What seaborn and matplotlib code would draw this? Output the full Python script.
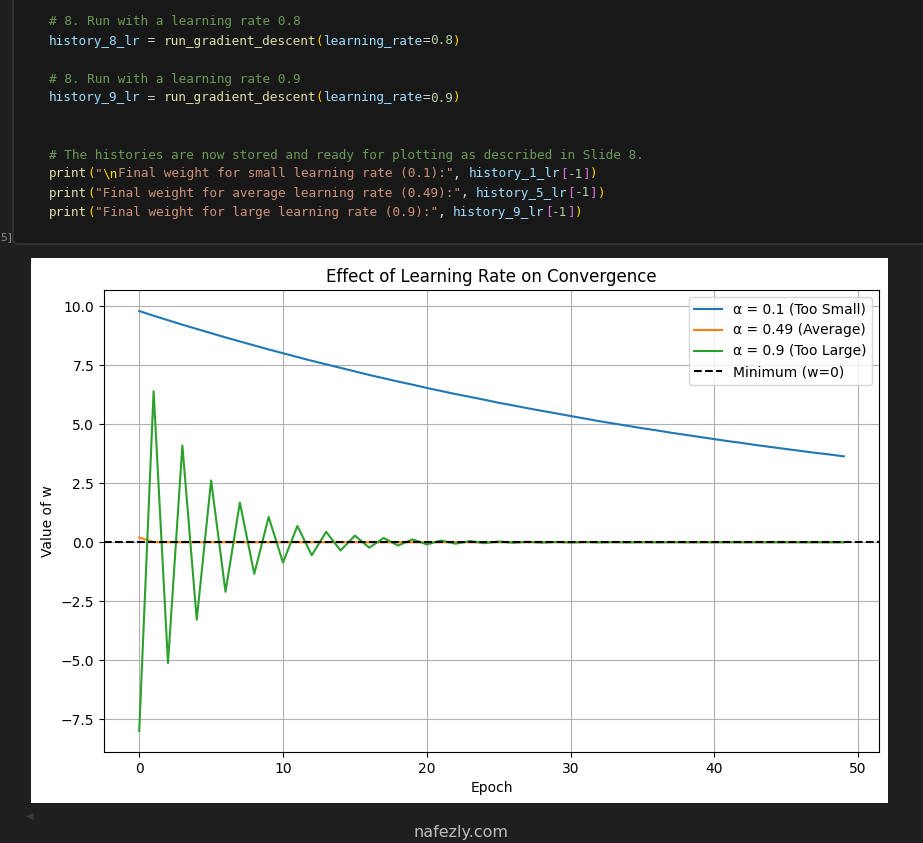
import matplotlib
matplotlib.use("Agg")
import matplotlib.pyplot as plt
from matplotlib.patches import Rectangle, FancyBboxPatch
import seaborn as sns
import numpy as np

# values of w per epoch
epochs = list(range(50))
w_small = [9.80, 9.60, 9.41, 9.22, 9.04, 8.86, 8.68, 8.51, 8.34, 8.17,
           8.01, 7.85, 7.69, 7.54, 7.39, 7.24, 7.09, 6.95, 6.81, 6.68,
           6.54, 6.41, 6.28, 6.16, 6.04, 5.91, 5.80, 5.68, 5.57, 5.46,
           5.35, 5.24, 5.13, 5.03, 4.93, 4.83, 4.74, 4.64, 4.55, 4.46,
           4.37, 4.28, 4.20, 4.11, 4.03, 3.95, 3.87, 3.79, 3.72, 3.64]
w_avg = [0.2, 0.004, 0.0001] + [0.0] * 47
w_large = [-8.0, 6.4, -5.12, 4.10, -3.28, 2.62, -2.10, 1.68, -1.34, 1.07,
           -0.86, 0.69, -0.55, 0.44, -0.35, 0.28, -0.23, 0.18, -0.14, 0.12,
           -0.09, 0.07, -0.06, 0.05, -0.04, 0.03, -0.02, 0.02, -0.015, 0.012,
           -0.01, 0.008, -0.006, 0.005, -0.004, 0.003, -0.003, 0.002, -0.002, 0.001,
           -0.001, 0.001, -0.001, 0.001, 0.0, 0.0, 0.0, 0.0, 0.0, 0.0]
labels = ["α = 0.1 (Too Small)", "α = 0.49 (Average)", "α = 0.9 (Too Large)"]
min_label = "Minimum (w=0)"

W, H = 923, 843
fig = plt.figure(figsize=(W / 100, H / 100), dpi=100, facecolor="#1f1f1f")

def fx(px):
    return px / W

def fy(py):
    return 1 - py / H

# code cell background
cell = FancyBboxPatch((fx(13), fy(244)), fx(923 - 13 + 20), fy(-10) - fy(244),
                      boxstyle="round,pad=0,rounding_size=0.006",
                      transform=fig.transFigure, facecolor="#181818",
                      edgecolor="#3a3a3a", linewidth=1.0, zorder=-5)
fig.patches.append(cell)
fig.text(fx(0), fy(237), "5]", color="#8a8a8a", fontsize=8,
         family="DejaVu Sans Mono", va="center")

COM = "#6a9955"
VAR = "#9cdcfe"
FUN = "#dcdcaa"
PAR = "#ffd700"
STR = "#ce9178"
NUM = "#b5cea8"
TXT = "#d4d4d4"
BRK = "#da70d6"

code_lines = [
    (22, [("# 8. Run with a learning rate 0.8", COM)]),
    (41, [("history_8_lr", VAR), (" = ", TXT), ("run_gradient_descent", FUN),
          ("(", PAR), ("learning_rate", VAR), ("=", TXT), ("0.8", NUM), (")", PAR)]),
    (79, [("# 8. Run with a learning rate 0.9", COM)]),
    (98, [("history_9_lr", VAR), (" = ", TXT), ("run_gradient_descent", FUN),
          ("(", PAR), ("learning_rate", VAR), ("=", TXT), ("0.9", NUM), (")", PAR)]),
    (155, [("# The histories are now stored and ready for plotting as described in Slide 8.", COM)]),
    (174, [("print", FUN), ("(", PAR), ('"', STR), ("\\n", PAR),
           ('Final weight for small learning rate (0.1):"', STR), (", ", TXT),
           ("history_1_lr", VAR), ("[", BRK), ("-1", NUM), ("]", BRK), (")", PAR)]),
    (193, [("print", FUN), ("(", PAR),
           ('"Final weight for average learning rate (0.49):"', STR), (", ", TXT),
           ("history_5_lr", VAR), ("[", BRK), ("-1", NUM), ("]", BRK), (")", PAR)]),
    (212, [("print", FUN), ("(", PAR),
           ('"Final weight for large learning rate (0.9):"', STR), (", ", TXT),
           ("history_9_lr", VAR), ("[", BRK), ("-1", NUM), ("]", BRK), (")", PAR)]),
]
code_fs = 9.15
# measure the real advance of one monospace character
renderer = fig.canvas.get_renderer()
probe = fig.text(0, 0, "x" * 100, fontsize=code_fs, family="DejaVu Sans Mono")
probe2 = fig.text(0, 0, "x" * 50, fontsize=code_fs, family="DejaVu Sans Mono")
char_w = (probe.get_window_extent(renderer).width
          - probe2.get_window_extent(renderer).width) / 50
probe.remove()
probe2.remove()
for y, parts in code_lines:
    col = 0
    for s, c in parts:
        fig.text(fx(49 + col * char_w), fy(y), s, color=c, fontsize=code_fs,
                 family="DejaVu Sans Mono", va="center", ha="left")
        col += len(s)

# white output image
fig.patches.append(Rectangle((fx(31), fy(803)), fx(888 - 31), fy(258) - fy(803),
                             transform=fig.transFigure, facecolor="white",
                             edgecolor="none", zorder=-5))

ax = fig.add_axes([fx(104), fy(752), fx(879 - 104), fy(290) - fy(752)])
ax.set_zorder(5)
ax.set_facecolor("white")
sns.lineplot(x=epochs, y=w_small, ax=ax, label=labels[0], color="#1f77b4", linewidth=1.5)
sns.lineplot(x=epochs, y=w_avg, ax=ax, label=labels[1], color="#ff7f0e", linewidth=1.5)
sns.lineplot(x=epochs, y=w_large, ax=ax, label=labels[2], color="#2ca02c", linewidth=1.5)
ax.axhline(0, color="black", linestyle="--", linewidth=1.5, label=min_label)
ax.set_title("Effect of Learning Rate on Convergence", fontsize=12)
ax.set_xlabel("Epoch", fontsize=10)
ax.set_ylabel("Value of w", fontsize=10)
ax.grid(True, color="#b0b0b0", linewidth=0.8)
ax.set_axisbelow(True)
ax.legend(loc="upper right", fontsize=10)

# bottom strip and watermark
fig.text(fx(30), fy(816), "◀", color="#3a3a3a", fontsize=7, ha="center", va="center")
fig.text(fx(461), fy(832), "nafezly.com", color="#d8d8d8", fontsize=11.5,
         ha="center", va="center", alpha=0.85, zorder=10)

fig.savefig("out.png", dpi=100, facecolor=fig.get_facecolor())
